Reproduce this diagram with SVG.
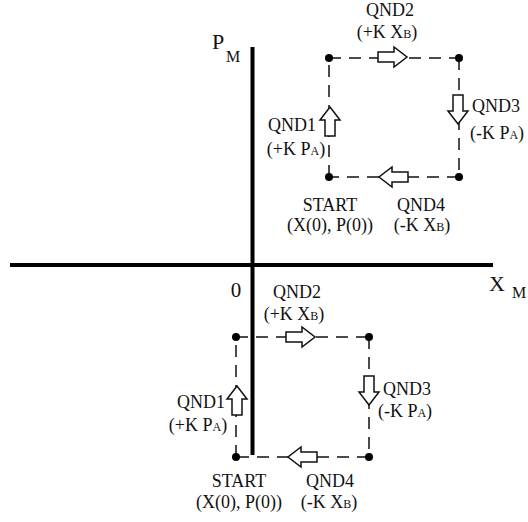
<svg xmlns="http://www.w3.org/2000/svg" xmlns:xlink="http://www.w3.org/1999/xlink" width="528" height="522" viewBox="0 0 528 522">
<style>
.m{text-anchor:middle}
.axis{stroke:#000;stroke-width:4;fill:none}
.dash{stroke:#111;stroke-width:1.5;stroke-dasharray:12 8;fill:none}
.dot{fill:#000}
.arr{fill:#fff;stroke:#111;stroke-width:1.5;stroke-linejoin:miter}
.t{font-family:"Liberation Serif",serif;font-size:18px;fill:#111}
.s{font-size:12px}
.big{font-size:22px}
.sub{font-size:16px}
.zero{font-size:21px}
</style>
<defs>
<path id="arr" class="arr" d="M0,-5 H16 V-10 L29,0 L16,10 V5 H0 Z"/>
</defs>
<rect width="528" height="522" fill="#fff"/>
<g id="axes">
<line class="axis" x1="252.5" y1="47" x2="252.5" y2="455"/>
<line class="axis" x1="10" y1="265" x2="493" y2="265"/>
<text x="212" y="49" class="t big">P</text>
<text x="226" y="62" class="t sub">M</text>
<text x="489" y="291" class="t big">X</text>
<text x="512" y="298" class="t sub">M</text>
<text x="236" y="297" class="t m zero">0</text>
</g>
<g id="connectors">
<path class="dash" d="M329,58 H459 M459,58 V177 M459,177 H329 M329,177 V58"/>
<path class="dash" d="M236,337 H369 M369,337 V457 M369,457 H236 M236,457 V337"/>
</g>
<g id="upper-cycle">
<g id="u-start"><circle class="dot" cx="329" cy="177" r="4"/>
<text x="330" y="211" class="t m">START</text><text x="330" y="231" class="t m">(X(0), P(0))</text></g>
<g id="u-tl"><circle class="dot" cx="329" cy="58" r="4"/></g>
<g id="u-tr"><circle class="dot" cx="459" cy="58" r="4"/></g>
<g id="u-br"><circle class="dot" cx="459" cy="177" r="4"/></g>
<g id="u-qnd1"><use xlink:href="#arr" transform="translate(330,136) rotate(-90)"/>
<text x="292" y="131" class="t m">QND1</text><text x="296" y="155" class="t m">(+K P<tspan class="s">A</tspan>)</text></g>
<g id="u-qnd2"><use xlink:href="#arr" transform="translate(378,57)"/>
<text x="390" y="16" class="t m">QND2</text><text x="387" y="38" class="t m">(+K X<tspan class="s">B</tspan>)</text></g>
<g id="u-qnd3"><use xlink:href="#arr" transform="translate(458,95) rotate(90)"/>
<text x="472" y="112" class="t">QND3</text><text x="497" y="139" class="t m">(-K P<tspan class="s">A</tspan>)</text></g>
<g id="u-qnd4"><use xlink:href="#arr" transform="translate(408,177) rotate(180)"/>
<text x="421" y="211" class="t m">QND4</text><text x="422" y="231" class="t m">(-K X<tspan class="s">B</tspan>)</text></g>
</g>
<g id="lower-cycle">
<g id="l-start"><circle class="dot" cx="236" cy="457" r="4"/>
<text x="239" y="487" class="t m">START</text><text x="239" y="508" class="t m">(X(0), P(0))</text></g>
<g id="l-tl"><circle class="dot" cx="236" cy="337" r="4"/></g>
<g id="l-tr"><circle class="dot" cx="369" cy="337" r="4"/></g>
<g id="l-br"><circle class="dot" cx="369" cy="457" r="4"/></g>
<g id="l-qnd1"><use xlink:href="#arr" transform="translate(237,415) rotate(-90)"/>
<text x="201" y="408" class="t m">QND1</text><text x="198" y="431" class="t m">(+K P<tspan class="s">A</tspan>)</text></g>
<g id="l-qnd2"><use xlink:href="#arr" transform="translate(286,337)"/>
<text x="297" y="298" class="t m">QND2</text><text x="294" y="320" class="t m">(+K X<tspan class="s">B</tspan>)</text></g>
<g id="l-qnd3"><use xlink:href="#arr" transform="translate(369,376) rotate(90)"/>
<text x="383" y="395" class="t">QND3</text><text x="405" y="417" class="t m">(-K P<tspan class="s">A</tspan>)</text></g>
<g id="l-qnd4"><use xlink:href="#arr" transform="translate(317,457) rotate(180)"/>
<text x="330" y="487" class="t m">QND4</text><text x="329" y="508" class="t m">(-K X<tspan class="s">B</tspan>)</text></g>
</g>
</svg>
